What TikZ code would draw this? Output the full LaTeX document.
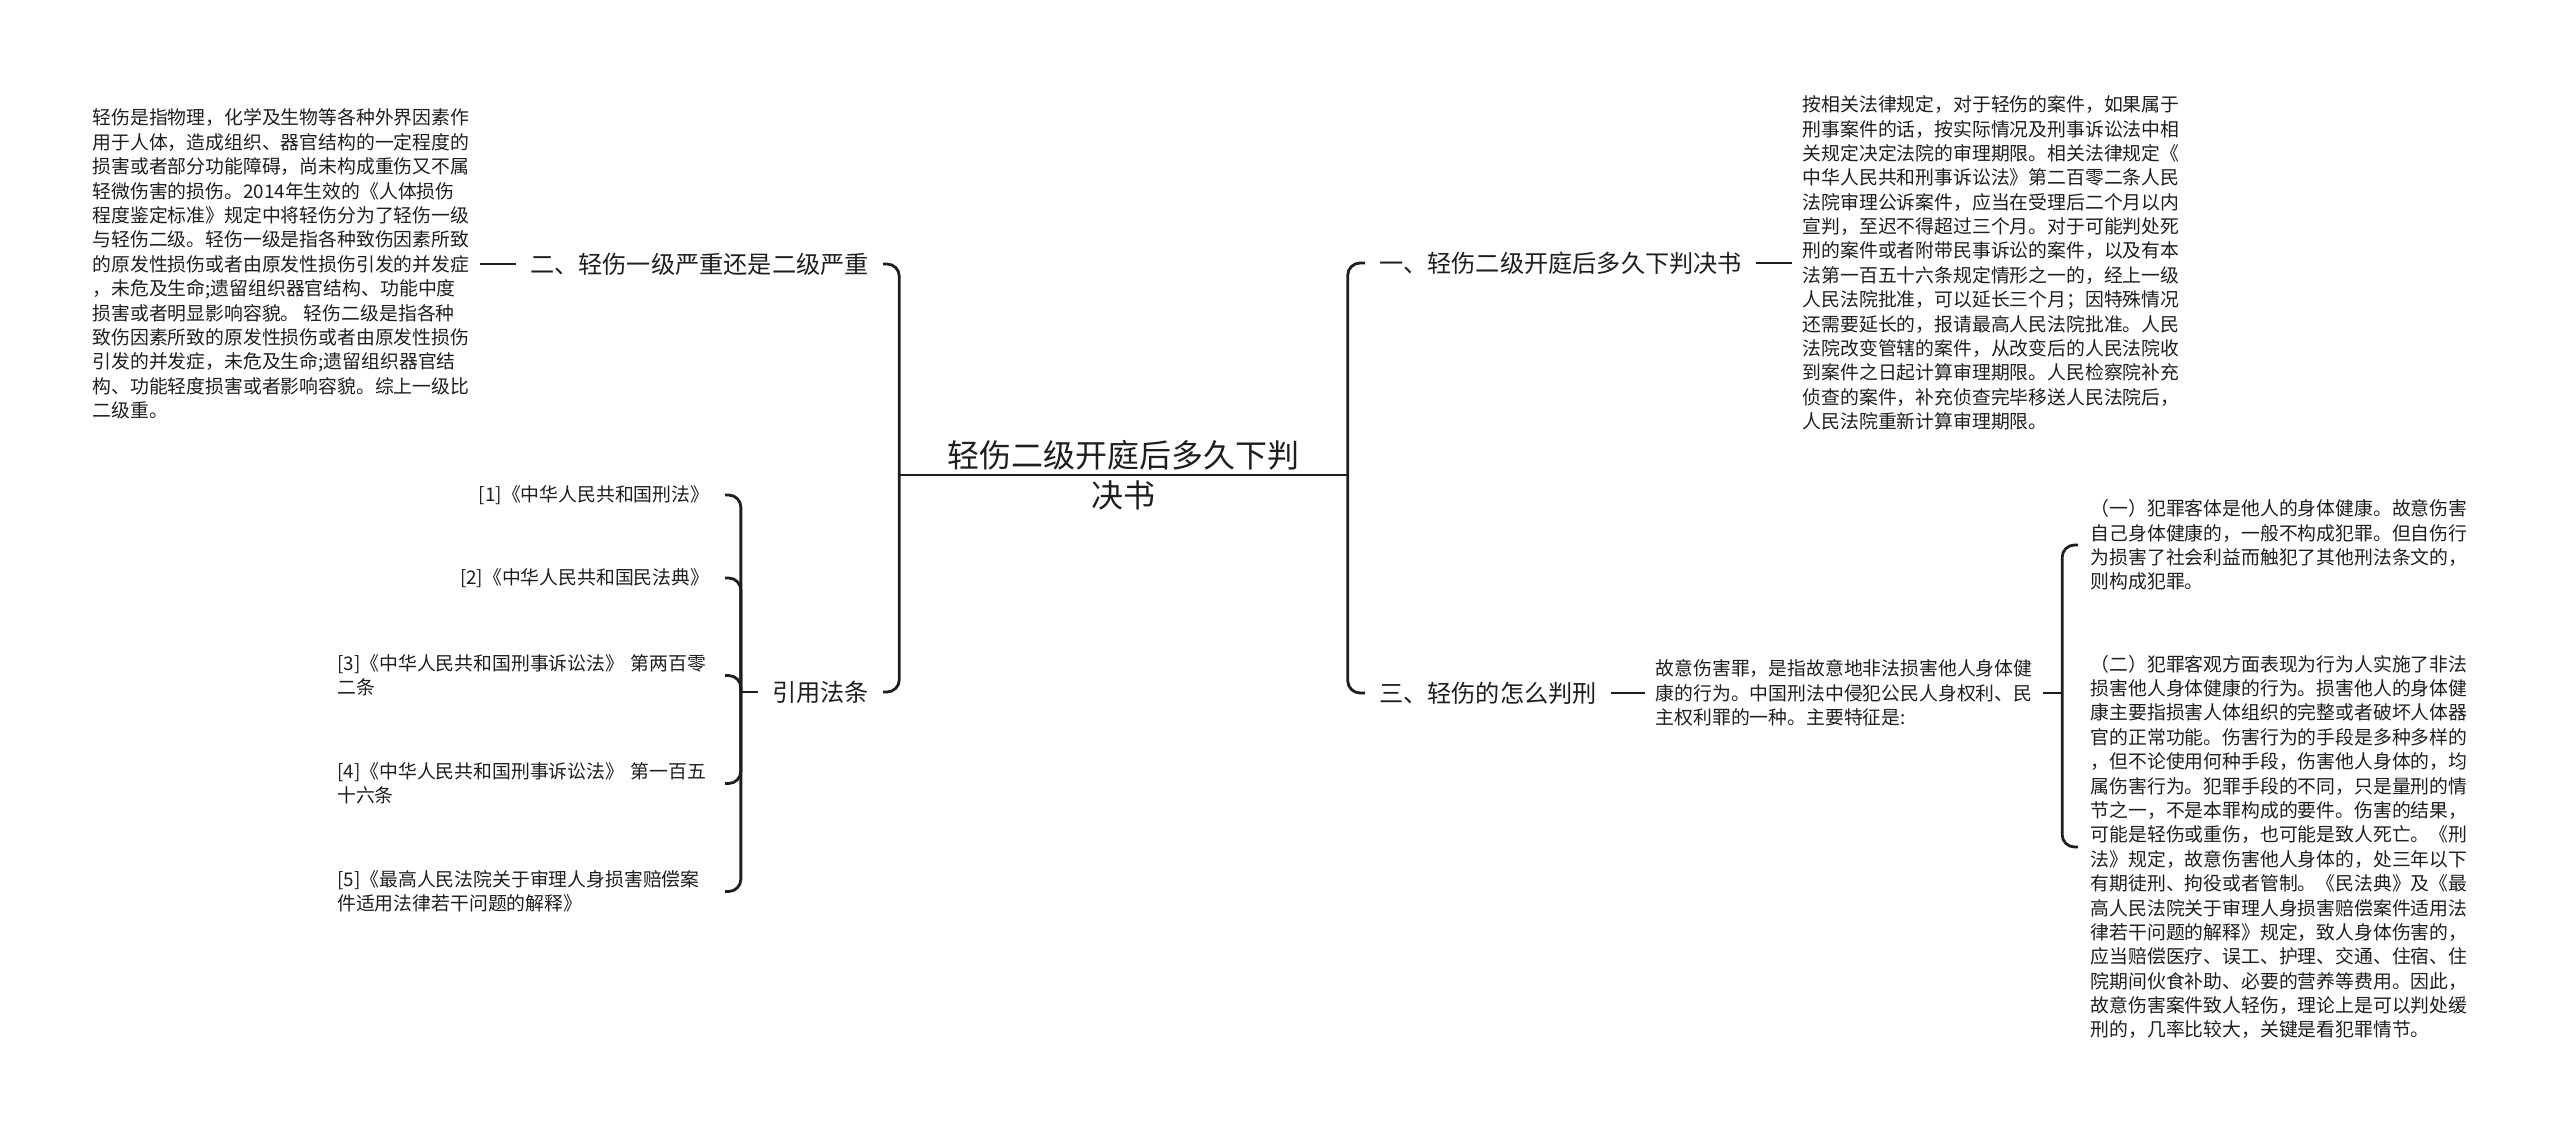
\documentclass[tikz,border=0pt]{standalone}
\usepackage{fontspec}
\newfontfamily\cjk{Noto Sans CJK SC}
\definecolor{inkgray}{RGB}{30,30,30}
\tikzset{
    % connector lines of the mind map, bent with small round corners
    link/.style={line width=0.8pt, draw=inkgray, rounded corners=3.5pt},
    % central topic, two lines with the trunk line passing between them
    roottopic/.style={font=\cjk\fontsize{9.1}{11.4}\selectfont, text=inkgray,
        align=center, inner sep=0pt, minimum width=4.47cm},
    % first level headings
    topic/.style={font=\cjk\fontsize{6.88}{8.6}\selectfont, text=inkgray,
        inner xsep=0.135cm, inner ysep=2pt},
    % explanatory paragraphs (lines broken as in the map)
    note/.style={font=\cjk\fontsize{5.36}{6.94}\selectfont, text=inkgray,
        align=left, inner xsep=0.1cm, inner ysep=1pt},
    % cited laws under the citation heading
    citeitem/.style={note, inner xsep=0.15cm},
    % two-line cited laws share one text width
    citelong/.style={citeitem, text width=3.72cm},
}

\begin{document}
\begin{tikzpicture}

    \useasboundingbox (0,0) rectangle (25.6,-11.32);

    % ---- central topic ----
    \node[roottopic] (root) at (11.235,-4.75)
        {轻伤二级开庭后多久下判\\决书};
    \draw[link] (root.west) -- (root.east);

    % ---- left side ----
    \node[topic, anchor=east] (b2) at (8.83,-2.64) {二、轻伤一级严重还是二级严重};
    \node[topic, anchor=east] (cite) at (8.83,-6.92) {引用法条};
    \draw[link] (root.west |- root.center) |- (b2.east);
    \draw[link] (root.west |- root.center) |- (cite.east);

    \node[note, anchor=east] (lt2) at (4.80,-2.64)
        {轻伤是指物理，化学及生物等各种外界因素作\\
         用于人体，造成组织、器官结构的一定程度的\\
         损害或者部分功能障碍，尚未构成重伤又不属\\
         轻微伤害的损伤。2014年生效的《人体损伤\\
         程度鉴定标准》规定中将轻伤分为了轻伤一级\\
         与轻伤二级。轻伤一级是指各种致伤因素所致\\
         的原发性损伤或者由原发性损伤引发的并发症\\
         ，未危及生命;遗留组织器官结构、功能中度\\
         损害或者明显影响容貌。 轻伤二级是指各种\\
         致伤因素所致的原发性损伤或者由原发性损伤\\
         引发的并发症，未危及生命;遗留组织器官结\\
         构、功能轻度损害或者影响容貌。综上一级比\\
         二级重。};
    \draw[link] (b2.west) -- (lt2.east);

    % cited laws
    \node[citeitem, anchor=east] (c1) at (7.25,-4.95) {[1]《中华人民共和国刑法》};
    \node[citeitem, anchor=east] (c2) at (7.25,-5.78) {[2]《中华人民共和国民法典》};
    \node[citelong, anchor=east] (c3) at (7.25,-6.755)
        {[3]《中华人民共和国刑事诉讼法》 第两百零\\二条};
    \node[citelong, anchor=east] (c4) at (7.25,-7.835)
        {[4]《中华人民共和国刑事诉讼法》 第一百五\\十六条};
    \node[citelong, anchor=east] (c5) at (7.25,-8.915)
        {[5]《最高人民法院关于审理人身损害赔偿案\\件适用法律若干问题的解释》};
    \draw[link] (cite.west) -- ++(-0.17,0) coordinate (citej);
    \foreach \c in {c1,c2,c3,c4,c5}{ \draw[link] (citej) |- (\c.east); }

    % ---- right side ----
    \node[topic, anchor=west] (b1) at (13.65,-2.63) {一、轻伤二级开庭后多久下判决书};
    \node[topic, anchor=west] (b3) at (13.65,-6.93) {三、轻伤的怎么判刑};
    \draw[link] (root.east |- root.center) |- (b1.west);
    \draw[link] (root.east |- root.center) |- (b3.west);

    \node[note, anchor=west] (rt1) at (17.92,-2.63)
        {按相关法律规定，对于轻伤的案件，如果属于\\
         刑事案件的话，按实际情况及刑事诉讼法中相\\
         关规定决定法院的审理期限。相关法律规定《\\
         中华人民共和刑事诉讼法》第二百零二条人民\\
         法院审理公诉案件，应当在受理后二个月以内\\
         宣判，至迟不得超过三个月。对于可能判处死\\
         刑的案件或者附带民事诉讼的案件，以及有本\\
         法第一百五十六条规定情形之一的，经上一级\\
         人民法院批准，可以延长三个月；因特殊情况\\
         还需要延长的，报请最高人民法院批准。人民\\
         法院改变管辖的案件，从改变后的人民法院收\\
         到案件之日起计算审理期限。人民检察院补充\\
         侦查的案件，补充侦查完毕移送人民法院后，\\
         人民法院重新计算审理期限。};
    \draw[link] (b1.east) -- (rt1.west);

    \node[note, anchor=west] (rt3) at (16.45,-6.93)
        {故意伤害罪，是指故意地非法损害他人身体健\\
         康的行为。中国刑法中侵犯公民人身权利、民\\
         主权利罪的一种。主要特征是:};
    \draw[link] (b3.east) -- (rt3.west);

    % features of the offence
    \node[note, anchor=west, inner xsep=0.12cm] (s1) at (20.78,-5.45)
        {（一）犯罪客体是他人的身体健康。故意伤害\\
         自己身体健康的，一般不构成犯罪。但自伤行\\
         为损害了社会利益而触犯了其他刑法条文的，\\
         则构成犯罪。};
    \node[note, anchor=west, inner xsep=0.12cm] (s2) at (20.78,-8.47)
        {（二）犯罪客观方面表现为行为人实施了非法\\
         损害他人身体健康的行为。损害他人的身体健\\
         康主要指损害人体组织的完整或者破坏人体器\\
         官的正常功能。伤害行为的手段是多种多样的\\
         ，但不论使用何种手段，伤害他人身体的，均\\
         属伤害行为。犯罪手段的不同，只是量刑的情\\
         节之一，不是本罪构成的要件。伤害的结果，\\
         可能是轻伤或重伤，也可能是致人死亡。《刑\\
         法》规定，故意伤害他人身体的，处三年以下\\
         有期徒刑、拘役或者管制。《民法典》及《最\\
         高人民法院关于审理人身损害赔偿案件适用法\\
         律若干问题的解释》规定，致人身体伤害的，\\
         应当赔偿医疗、误工、护理、交通、住宿、住\\
         院期间伙食补助、必要的营养等费用。因此，\\
         故意伤害案件致人轻伤，理论上是可以判处缓\\
         刑的，几率比较大，关键是看犯罪情节。};
    \draw[link] (rt3.east) -- ++(0.19,0) coordinate (rt3j);
    \foreach \s in {s1,s2}{ \draw[link] (rt3j) |- (\s.west); }

\end{tikzpicture}
\end{document}
